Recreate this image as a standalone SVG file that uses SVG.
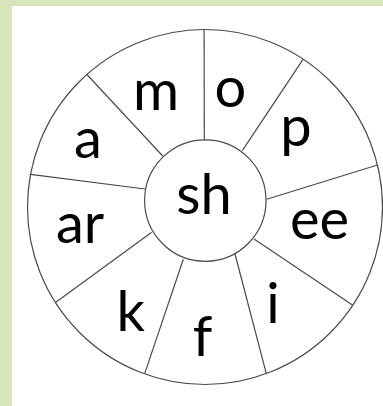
<svg xmlns="http://www.w3.org/2000/svg" width="383" height="406" viewBox="0 0 383 406">
<style>
.ring{fill:#fff;stroke:#4a4a4a;stroke-width:1.2}
.spoke{stroke:#4a4a4a;stroke-width:1.2;fill:none}
.lbl{font-family:Lato,"Open Sans","Liberation Sans",sans-serif;font-size:56px;fill:#000;text-anchor:middle}
</style>
<rect x="0" y="0" width="383" height="406" fill="#d8e4bc"/>
<rect x="12" y="6" width="371" height="400" fill="#fff"/>
<g id="wheel">
<circle class="ring" cx="205" cy="207" r="177.5"/>
</g>
<g id="connectors">
<line class="spoke" x1="204.1" y1="29.5" x2="204.3" y2="145"/>
<line class="spoke" x1="303.2" y1="59.2" x2="242.3" y2="150.7"/>
<line class="spoke" x1="377.5" y1="165" x2="266.7" y2="199.3"/>
<line class="spoke" x1="352.8" y1="305.2" x2="254" y2="239"/>
<line class="spoke" x1="266.3" y1="373.6" x2="235" y2="254"/>
<line class="spoke" x1="144.6" y1="373.9" x2="183.3" y2="259.3"/>
<line class="spoke" x1="55.5" y1="302.6" x2="151.7" y2="232.3"/>
<line class="spoke" x1="30.5" y1="174.3" x2="145" y2="189"/>
<line class="spoke" x1="86.9" y1="74.5" x2="162.7" y2="156"/>
</g>
<g id="center"><circle class="ring" cx="205.3" cy="200.6" r="60.7"/><text class="lbl" x="204" y="214">sh</text></g>
<g id="seg-m"><text class="lbl" x="156" y="110">m</text></g>
<g id="seg-o"><text class="lbl" x="230.5" y="107">o</text></g>
<g id="seg-p"><text class="lbl" x="296" y="146">p</text></g>
<g id="seg-ee"><text class="lbl" x="319.5" y="238.5">ee</text></g>
<g id="seg-i"><text class="lbl" x="273" y="323">i</text></g>
<g id="seg-f"><text class="lbl" x="202.5" y="355.5">f</text></g>
<g id="seg-k"><text class="lbl" x="130.7" y="331">k</text></g>
<g id="seg-ar"><text class="lbl" x="80" y="243">ar</text></g>
<g id="seg-a"><text class="lbl" x="88" y="158">a</text></g>
</svg>
